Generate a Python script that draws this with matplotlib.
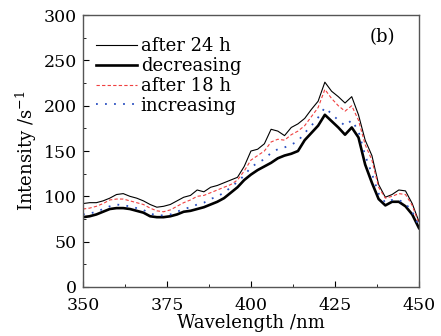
import matplotlib
matplotlib.use("Agg")
import matplotlib.pyplot as plt
from matplotlib.ticker import MultipleLocator

wavelength = list(range(350, 451, 2))

after_24h = [92, 93, 93, 95, 98, 102, 103, 100, 98, 95,
             91, 88, 89, 91, 95, 99, 101, 107, 105, 110,
             112, 115, 118, 121, 133, 150, 152, 158, 174, 172,
             167, 176, 180, 186, 196, 205, 226, 216, 210, 203,
             210, 190, 162, 145, 113, 99, 102, 107, 106, 92, 72]

decreasing = [77, 78, 80, 83, 86, 87, 87, 86, 84, 82,
              78, 77, 77, 78, 80, 83, 84, 86, 88, 91,
              94, 98, 104, 110, 118, 124, 129, 133, 137, 142,
              145, 147, 150, 162, 170, 178, 190, 183, 176, 168,
              176, 165, 135, 115, 97, 90, 94, 94, 89, 80, 65]

after_18h = [86, 87, 89, 92, 96, 97, 97, 95, 93, 91,
             87, 84, 83, 85, 89, 93, 96, 100, 101, 104,
             107, 110, 113, 118, 128, 140, 145, 150, 160, 163,
             162, 168, 172, 178, 188, 198, 218, 208, 200, 194,
             200, 184, 157, 140, 110, 98, 100, 103, 102, 90, 70]

increasing = [80, 81, 83, 86, 89, 91, 90, 89, 87, 85,
              81, 79, 79, 80, 83, 86, 88, 91, 93, 97,
              100, 104, 110, 116, 123, 132, 137, 141, 148, 152,
              154, 157, 161, 170, 178, 187, 198, 191, 184, 178,
              184, 172, 145, 125, 103, 93, 96, 96, 92, 83, 67]

plt.rcParams["font.family"] = ["DejaVu Serif"]
plt.rcParams["mathtext.fontset"] = "dejavuserif"

fig = plt.figure(figsize=(4.41, 3.36), dpi=100)
ax = fig.add_axes([0.188, 0.146, 0.762, 0.809])

ax.plot(wavelength, after_24h, color="black", lw=0.8, label="after 24 h")
ax.plot(wavelength, decreasing, color="black", lw=1.9, label="decreasing")
ax.plot(wavelength, after_18h, color="#f04040", lw=0.8, ls=(0, (3, 2)),
        label="after 18 h")
ax.plot(wavelength, increasing, color="#2a4fc0", lw=1.3, ls=(0, (1, 4)),
        label="increasing")

ax.set_xlim(350, 450)
ax.set_ylim(0, 300)
ax.xaxis.set_major_locator(MultipleLocator(25))
ax.xaxis.set_minor_locator(MultipleLocator(12.5))
ax.yaxis.set_major_locator(MultipleLocator(50))
ax.yaxis.set_minor_locator(MultipleLocator(25))
ax.tick_params(which="both", direction="in", top=False, right=False,
               labelsize=12.5)
ax.tick_params(axis="x", pad=7)
ax.tick_params(axis="y", pad=4.5)
ax.tick_params(which="major", length=4)
ax.tick_params(which="minor", length=2.5)
for s in ax.spines.values():
    s.set_color("#555555")
    s.set_linewidth(1.0)

ax.set_xlabel("Wavelength /nm", fontsize=13, labelpad=0.5)
ax.set_ylabel("Intensity /s$^{-1}$", fontsize=13, labelpad=3)
ax.text(0.93, 0.92, "(b)", transform=ax.transAxes, fontsize=13,
        ha="right", va="center")

ax.legend(loc="upper left", bbox_to_anchor=(0.0, 0.965), frameon=False,
          fontsize=13, handlelength=2.3, handletextpad=0.2,
          labelspacing=0.1, borderpad=0.2)

fig.savefig("out.png", dpi=100)
